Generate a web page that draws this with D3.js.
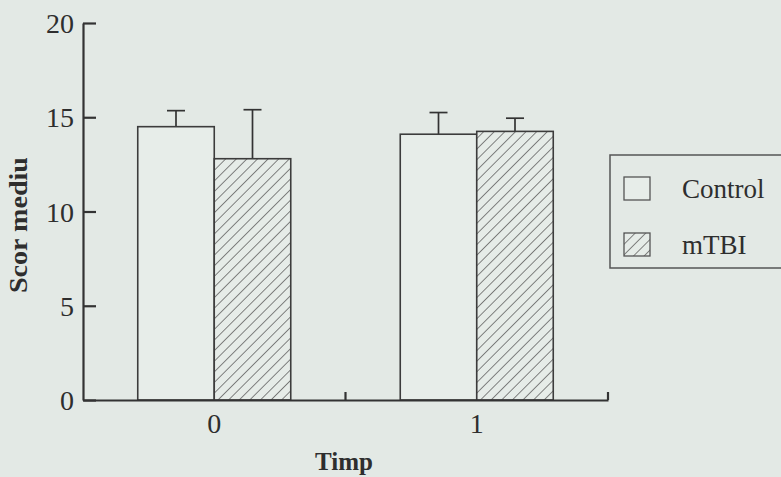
<!DOCTYPE html>
<html>
<head>
<meta charset="utf-8">
<script src="https://cdn.jsdelivr.net/npm/d3@7/dist/d3.min.js"></script>
<style>
  html, body { margin: 0; padding: 0; background: #e3e9e5; }
  svg { display: block; }
  text { font-family: "Liberation Serif", "DejaVu Serif", serif; fill: #2e2e2e; }
</style>
</head>
<body>
<svg id="chart" width="781" height="477"></svg>
<script>
// ---- data ----
const categories = ["0", "1"];
const seriesNames = ["Control", "mTBI"];
const controlMeans = [14.5, 14.1];
const controlErrTop = [15.35, 15.25];
const mtbiMeans = [12.8, 14.25];
const mtbiErrTop = [15.4, 14.95];
const yTicks = [0, 5, 10, 15, 20];
const xTitle = "Timp";
const yTitle = "Scor mediu";

const svg = d3.select("#chart");
const ink = "#333";

// hatch pattern
const defs = svg.append("defs");
const pat = defs.append("pattern")
  .attr("id", "hatch").attr("patternUnits", "userSpaceOnUse")
  .attr("width", 7.5).attr("height", 7.5)
  .attr("patternTransform", "rotate(45)");
pat.append("rect").attr("width", 7.5).attr("height", 7.5).attr("fill", "#e6ece8");
pat.append("line").attr("x1", 0).attr("y1", 0).attr("x2", 0).attr("y2", 7.5)
  .attr("stroke", "#666").attr("stroke-width", 1.6);

const x = d3.scaleBand().domain(categories).range([83, 608]).padding(0);
const y = d3.scaleLinear().domain([0, 20]).range([400, 23]);
const halfGroup = 76.5;
const sub = d3.scaleBand().domain(seriesNames).range([-halfGroup, halfGroup]).padding(0);

const rows = categories.map((c, i) => ({
  cat: c,
  vals: [
    { s: "Control", v: controlMeans[i], e: controlErrTop[i] },
    { s: "mTBI", v: mtbiMeans[i], e: mtbiErrTop[i] }
  ]
}));

const groups = svg.append("g").selectAll("g").data(rows).join("g")
  .attr("transform", d => `translate(${x(d.cat) + x.bandwidth() / 2},0)`);

// error bars (upper only)
groups.selectAll("g.err").data(d => d.vals).join("g").attr("class", "err")
  .each(function(d) {
    const g = d3.select(this);
    const cx = sub(d.s) + sub.bandwidth() / 2;
    g.append("line").attr("x1", cx).attr("x2", cx).attr("y1", y(d.v)).attr("y2", y(d.e))
      .attr("stroke", ink).attr("stroke-width", 1.7);
    g.append("line").attr("x1", cx - 9).attr("x2", cx + 9).attr("y1", y(d.e)).attr("y2", y(d.e))
      .attr("stroke", ink).attr("stroke-width", 1.7);
  });

groups.selectAll("rect").data(d => d.vals).join("rect")
  .attr("x", d => sub(d.s))
  .attr("width", sub.bandwidth())
  .attr("y", d => y(d.v))
  .attr("height", d => y(0) - y(d.v))
  .attr("fill", d => d.s === "Control" ? "#e7ede9" : "url(#hatch)")
  .attr("stroke", "#3c3c3c").attr("stroke-width", 1.6);

// y axis
const yAxis = d3.axisLeft(y).tickValues(yTicks).tickSizeInner(-13).tickSizeOuter(0).tickPadding(9);
const gy = svg.append("g").attr("transform", "translate(83,0)").call(yAxis);
gy.select(".domain").attr("stroke", ink).attr("stroke-width", 2.2);
gy.selectAll(".tick line").attr("stroke", ink).attr("stroke-width", 2.2);
gy.selectAll(".tick text").attr("font-size", 28).attr("fill", "#2e2e2e")
  .style("font-family", "'Liberation Serif', serif").attr("dy", "0.34em");

// x axis
const xAxis = d3.axisBottom(x).tickSize(0).tickPadding(13);
const gx = svg.append("g").attr("transform", "translate(0,400)").call(xAxis);
gx.select(".domain").attr("stroke", ink).attr("stroke-width", 2.2);
gx.selectAll(".tick text").attr("font-size", 28).attr("fill", "#2e2e2e")
  .style("font-family", "'Liberation Serif', serif");
// boundary ticks (inward)
gx.selectAll("line.bt").data(categories).join("line").attr("class", "bt")
  .attr("x1", d => x(d) + x.bandwidth()).attr("x2", d => x(d) + x.bandwidth())
  .attr("y1", 0).attr("y2", -8).attr("stroke", ink).attr("stroke-width", 2.2);

// axis titles
svg.append("text").attr("x", 344).attr("y", 470).attr("text-anchor", "middle")
  .attr("font-size", 25).attr("font-weight", "bold").text(xTitle);
svg.append("text").attr("transform", "translate(27,225) rotate(-90)")
  .attr("text-anchor", "middle").attr("font-size", 25).attr("font-weight", "bold")
  .attr("textLength", 136).attr("lengthAdjust", "spacingAndGlyphs")
  .text(yTitle);

// legend
const lg = svg.append("g");
lg.append("rect").attr("x", 610).attr("y", 155).attr("width", 190).attr("height", 113)
  .attr("fill", "none").attr("stroke", "#555").attr("stroke-width", 1.5);
const items = lg.selectAll("g").data(seriesNames).join("g")
  .attr("transform", (d, i) => `translate(624,${177 + i * 56})`);
items.append("rect").attr("width", 26).attr("height", 23)
  .attr("fill", d => d === "Control" ? "#e7ede9" : "url(#hatch)")
  .attr("stroke", "#555").attr("stroke-width", 1.3);
items.append("text").attr("x", 58).attr("y", 21).attr("font-size", 27).text(d => d);
</script>
</body>
</html>
